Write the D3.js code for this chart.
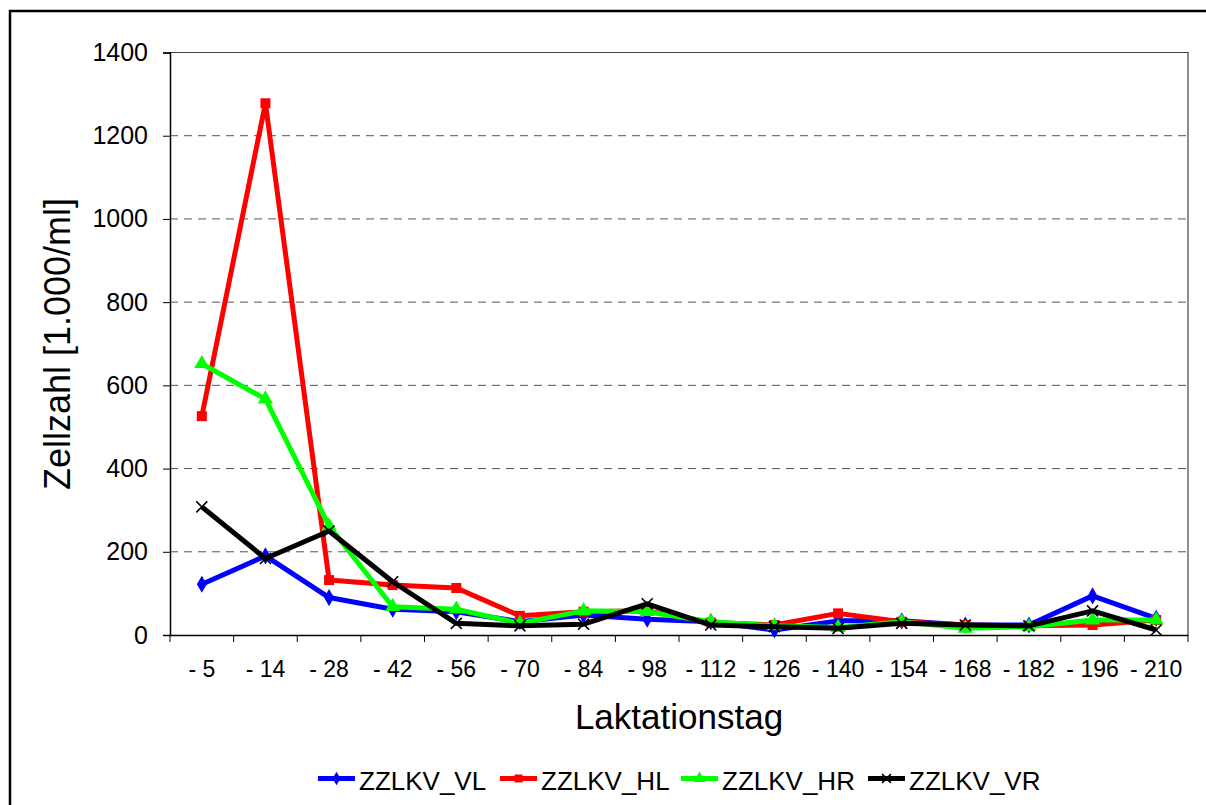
<!DOCTYPE html>
<html>
<head>
<meta charset="utf-8">
<script src="https://cdn.jsdelivr.net/npm/d3@7"></script>
<style>
  body { margin: 0; background: #fff; }
  svg { display: block; font-family: "Liberation Sans", Arial, sans-serif; }
</style>
</head>
<body>
<div id="chart"></div>
<script>
// Laktationstag categories and cell counts per quarter
var days = ["- 5", "- 14", "- 28", "- 42", "- 56", "- 70", "- 84", "- 98", "- 112",
            "- 126", "- 140", "- 154", "- 168", "- 182", "- 196", "- 210"];

var vl = [122, 190, 90, 62, 56, 32, 48, 38, 32, 12, 34, 34, 24, 24, 94, 40];
var hl = [526, 1278, 132, 120, 113, 46, 56, 58, 30, 24, 52, 32, 24, 22, 24, 36];
var hr = [652, 567, 262, 68, 62, 28, 58, 56, 32, 22, 18, 32, 16, 20, 36, 36];
var vr = [308, 184, 250, 128, 28, 22, 26, 75, 24, 20, 16, 28, 24, 22, 58, 12];

var yTicks = [0, 200, 400, 600, 800, 1000, 1200, 1400];

var seriesNames = ["ZZLKV_VL", "ZZLKV_HL", "ZZLKV_HR", "ZZLKV_VR"];
var seriesColors = ["#0000ff", "#ff0000", "#00ff00", "#000000"];
var seriesValues = [vl, hl, hr, vr];

//// SETTINGS //////////////////////////////////////////////////////////////////
var width = 1206, height = 805;
var plotLeft = 170, plotRight = 1188, plotTop = 52.5, plotBottom = 635;

var svg = d3.select("#chart").append("svg")
    .attr("width", width)
    .attr("height", height);

// outer chart frame (runs off the right and bottom edge)
svg.append("rect")
    .attr("x", 10).attr("y", 11)
    .attr("width", 1210).attr("height", 820)
    .attr("fill", "none")
    .attr("stroke", "#000")
    .attr("stroke-width", 2.5);

var x = d3.scaleBand().domain(days).range([plotLeft, plotRight]);
var y = d3.scaleLinear().domain([0, 1400]).range([plotBottom, plotTop]);

// dashed gridlines
svg.append("g")
    .selectAll("line")
    .data(yTicks.filter(function(d) { return d > 0 && d < 1400; }))
    .join("line")
    .attr("x1", plotLeft).attr("x2", plotRight)
    .attr("y1", function(d) { return y(d); })
    .attr("y2", function(d) { return y(d); })
    .attr("stroke", "#555")
    .attr("stroke-width", 1)
    .attr("stroke-dasharray", "8,6");

// plot frame top and right
svg.append("path")
    .attr("d", "M" + plotLeft + "," + plotTop + "H" + plotRight + "V" + plotBottom)
    .attr("fill", "none")
    .attr("stroke", "#444")
    .attr("stroke-width", 1.2);

// y axis
var yAxis = svg.append("g")
    .attr("transform", "translate(" + plotLeft + ",0)")
    .call(d3.axisLeft(y).tickValues(yTicks).tickFormat(d3.format("d"))
            .tickSize(7).tickPadding(15));
yAxis.select(".domain").attr("stroke", "#000").attr("stroke-width", 1.5);
yAxis.selectAll(".tick line").attr("stroke", "#000");
yAxis.selectAll(".tick text")
    .attr("font-size", 25)
    .attr("fill", "#000")
    .attr("font-family", "Liberation Sans, Arial, sans-serif");

// x axis: ticks sit between categories
var xAxis = svg.append("g")
    .attr("transform", "translate(0," + plotBottom + ")")
    .call(d3.axisBottom(x).tickSize(0).tickPadding(26));
xAxis.select(".domain").attr("stroke", "#000").attr("stroke-width", 1.5);
xAxis.selectAll(".tick text")
    .attr("font-size", 23)
    .attr("fill", "#000")
    .attr("font-family", "Liberation Sans, Arial, sans-serif");
xAxis.selectAll("line.sep")
    .data(days.concat(["end"]))
    .join("line")
    .attr("class", "sep")
    .attr("x1", function(d, i) { return plotLeft + i * x.step(); })
    .attr("x2", function(d, i) { return plotLeft + i * x.step(); })
    .attr("y1", 0).attr("y2", 7)
    .attr("stroke", "#000");

// axis titles
svg.append("text")
    .attr("transform", "translate(70,344) rotate(-90)")
    .attr("text-anchor", "middle")
    .attr("font-size", 36)
    .text("Zellzahl [1.000/ml]");

svg.append("text")
    .attr("x", 679).attr("y", 729)
    .attr("text-anchor", "middle")
    .attr("font-size", 35)
    .text("Laktationstag");

var cx = function(d, i) { return x(days[i]) + x.bandwidth() / 2; };

var line = d3.line()
    .x(function(d, i) { return cx(d, i); })
    .y(function(d) { return y(d); });

var symbols = [d3.symbolDiamond, d3.symbolSquare, d3.symbolTriangle, null];

function drawMarker(g, k, px, py, scale) {
    var s = scale || 1;
    if (k === 3) {
        var r = 5.5 * s;
        g.append("path")
            .attr("d", "M" + (px - r) + "," + (py - r) + "L" + (px + r) + "," + (py + r) +
                       "M" + (px - r) + "," + (py + r) + "L" + (px + r) + "," + (py - r))
            .attr("stroke", "#000")
            .attr("stroke-width", 1.6);
    } else {
        var sizes = [85, 100, 100];
        g.append("path")
            .attr("d", d3.symbol().type(symbols[k]).size(sizes[k] * s * s)())
            .attr("transform", "translate(" + px + "," + py + ")")
            .attr("fill", seriesColors[k]);
    }
}

seriesValues.forEach(function(vals, k) {
    var g = svg.append("g");
    g.append("path")
        .datum(vals)
        .attr("d", line)
        .attr("fill", "none")
        .attr("stroke", seriesColors[k])
        .attr("stroke-width", 5)
        .attr("stroke-linejoin", "round");
    vals.forEach(function(v, i) {
        drawMarker(g, k, cx(v, i), y(v));
    });
});

// legend
var legendX = [318, 500, 681, 868];
var legend = svg.append("g");
seriesNames.forEach(function(name, k) {
    var lx = legendX[k], ly = 778.5;
    legend.append("line")
        .attr("x1", lx).attr("x2", lx + 37)
        .attr("y1", ly).attr("y2", ly)
        .attr("stroke", seriesColors[k])
        .attr("stroke-width", 5);
    drawMarker(legend, k, lx + 18.5, ly, 0.8);
    legend.append("text")
        .attr("x", lx + 41).attr("y", 790)
        .attr("font-size", 26)
        .text(name);
});
</script>
</body>
</html>
